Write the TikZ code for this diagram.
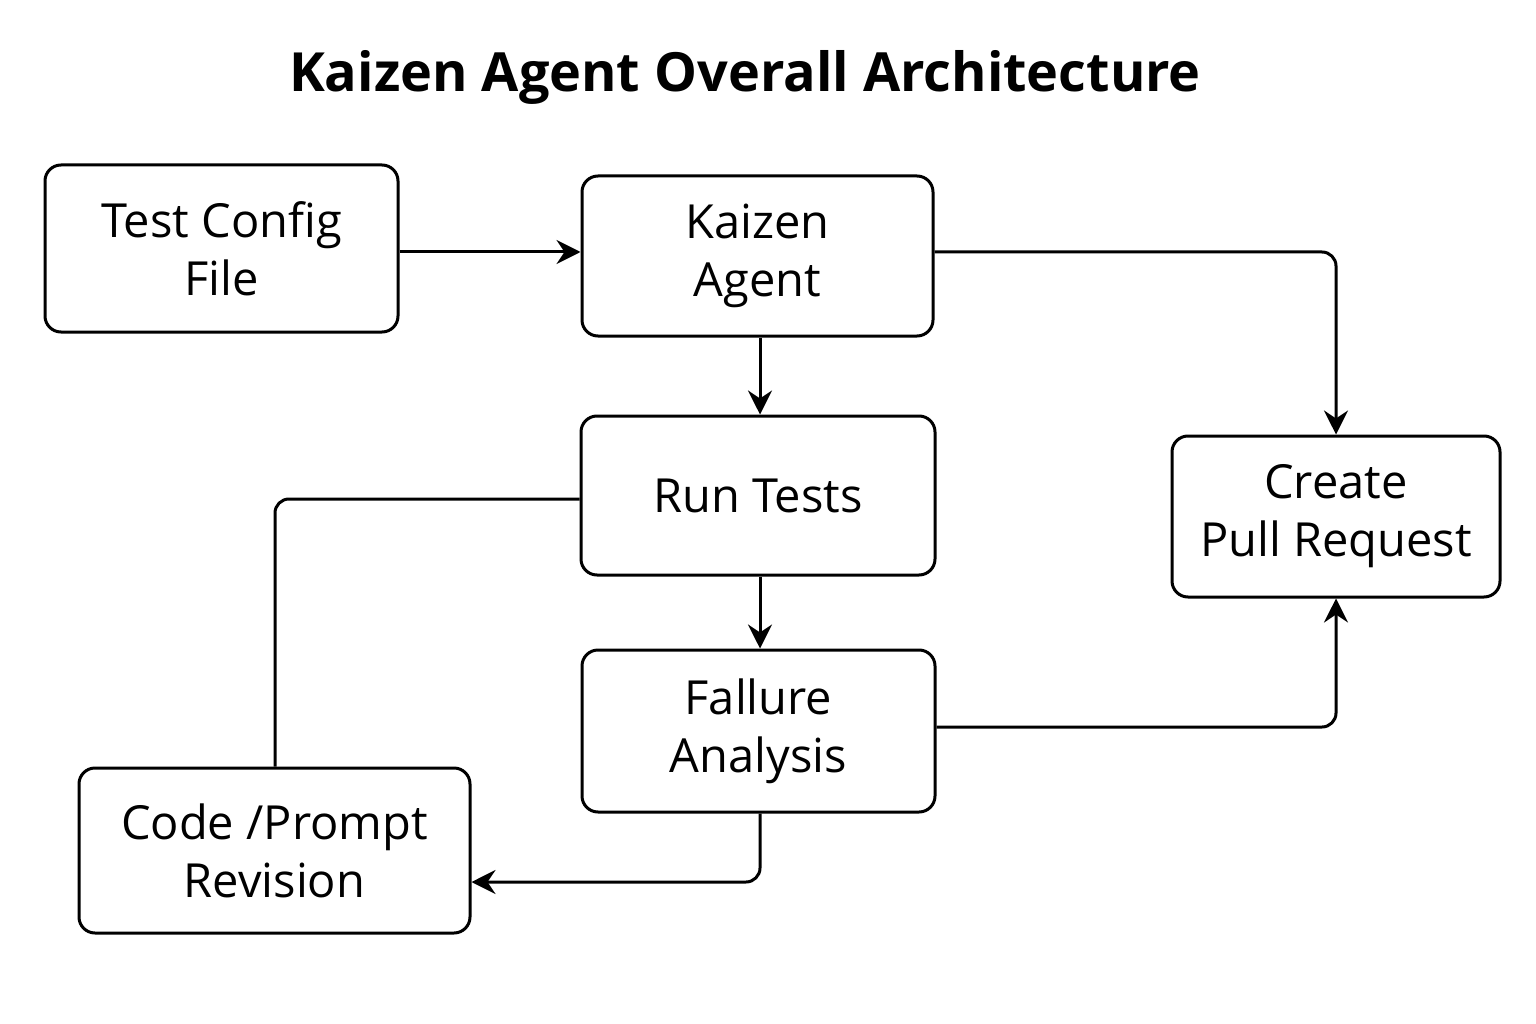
\documentclass[tikz,border=0pt]{standalone}
\usepackage{fontspec}
\setmainfont{Open Sans}
\usetikzlibrary{arrows.meta}
\begin{document}
\begin{tikzpicture}[x=1pt,y=-1pt,
  box/.style={draw=black, line width=3pt, rounded corners=16pt, align=center,
    inner sep=0pt, font=\fontsize{47}{58}\selectfont, text=black},
  conn/.style={draw=black, line width=3pt, rounded corners=14pt},
  arr/.style={conn, -{Stealth[length=24pt,width=24pt,inset=8pt]}}]
\useasboundingbox (0,0) rectangle (1536,1024);
\node[font=\fontsize{54}{60}\selectfont\bfseries] (title) at (745,77) {Kaizen Agent Overall Architecture};
\node[box, minimum width=353pt, minimum height=167pt] (cfg) at (221.5,248.5) {Test Config\\File};
\node[box, minimum width=351pt, minimum height=160pt] (agent) at (757.5,256) {Kaizen\\Agent};
\node[box, minimum width=354pt, minimum height=159pt] (run) at (758,495.5) {Run Tests};
\node[box, minimum width=353pt, minimum height=162pt] (fail) at (758.5,731) {Fallure\\Analysis};
\node[box, minimum width=328pt, minimum height=161pt] (pr) at (1336,516.5) {Create\\Pull Request};
\node[box, minimum width=391pt, minimum height=165pt] (rev) at (274.5,850.5) {Code /Prompt\\Revision};
\draw[arr] (cfg.east |- 0,252) -- (agent.west |- 0,252);
\draw[arr] (agent.south -| 760,0) -- (run.north -| 760,0);
\draw[arr] (run.south -| 760,0) -- (fail.north -| 760,0);
\draw[arr] (agent.east |- 0,252) -| (pr.north);
\draw[arr] (fail.east |- 0,727) -| (pr.south);
\draw[arr] (fail.south -| 760,0) |- (rev.east |- 0,882);
\draw[conn] (run.west |- 0,499) -| (rev.north -| 275,0);
\end{tikzpicture}
\end{document}
